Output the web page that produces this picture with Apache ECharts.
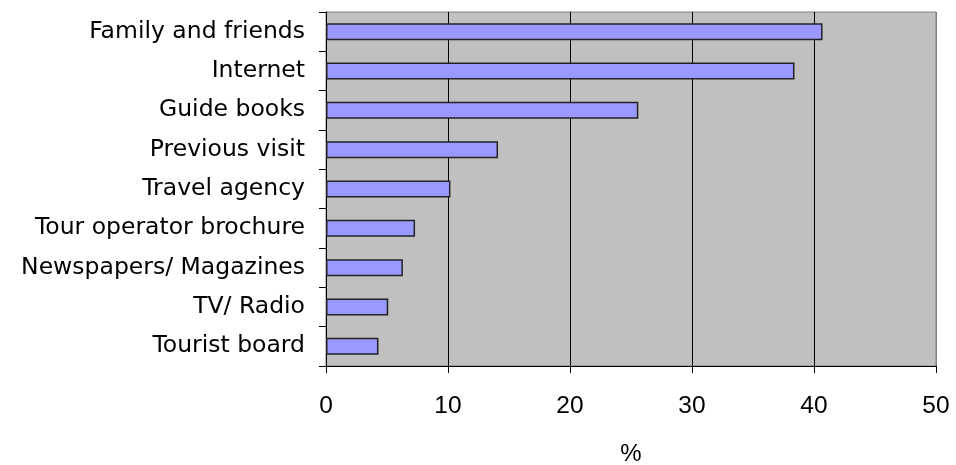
<!DOCTYPE html>
<html>
<head>
<meta charset="utf-8">
<script src="https://cdn.jsdelivr.net/npm/echarts@6/dist/echarts.min.js"></script>
<style>html,body{margin:0;padding:0;background:#fff}#c{width:956px;height:465px}</style>
</head>
<body>
<div id="c"></div>
<script>
const categories = ["Family and friends","Internet","Guide books","Previous visit","Travel agency","Tour operator brochure","Newspapers/ Magazines","TV/ Radio","Tourist board"];
const values = [40.7, 38.4, 25.6, 14.1, 10.2, 7.3, 6.3, 5.1, 4.3];
const xTicks = [0, 10, 20, 30, 40, 50];
const xName = "%";

const chart = echarts.init(document.getElementById('c'), null, {renderer: 'canvas'});
const catFont = '"DejaVu Sans", sans-serif';
const numFont = '"Liberation Sans", Arial, sans-serif';
chart.setOption({
  animation: false,
  grid: {left: 326, right: 20, top: 12, bottom: 99, containLabel: false, outerBoundsMode: 'none',
         show: true, backgroundColor: '#c0c0c0', borderColor: '#808080', borderWidth: 1},
  xAxis: {
    type: 'value', min: xTicks[0], max: xTicks[xTicks.length-1], interval: 10,
    name: xName, nameLocation: 'middle', nameGap: 76,
    nameTextStyle: {fontFamily: numFont, fontSize: 24, color: '#000'},
    axisLine: {show: true, lineStyle: {color: '#000', width: 1}},
    axisTick: {show: true, inside: false, length: 7, lineStyle: {color: '#000'}},
    axisLabel: {fontFamily: numFont, fontSize: 24.5, color: '#000', margin: 28},
    splitLine: {show: true, lineStyle: {color: ['#000','#000','#000','#000','#000','#808080'], width: 1}}
  },
  yAxis: {
    type: 'category', data: categories, inverse: true,
    axisLine: {show: true, lineStyle: {color: '#000', width: 1}},
    axisTick: {show: true, inside: false, length: 7, lineStyle: {color: '#000'}},
    axisLabel: {fontFamily: catFont, fontSize: 23.5, color: '#000', margin: 21},
    splitLine: {show: false}
  },
  series: [{
    type: 'bar', data: values, barWidth: 17,
    itemStyle: {color: '#9999ff', borderColor: '#222', borderWidth: 1.5}
  }]
});
</script>
</body>
</html>
